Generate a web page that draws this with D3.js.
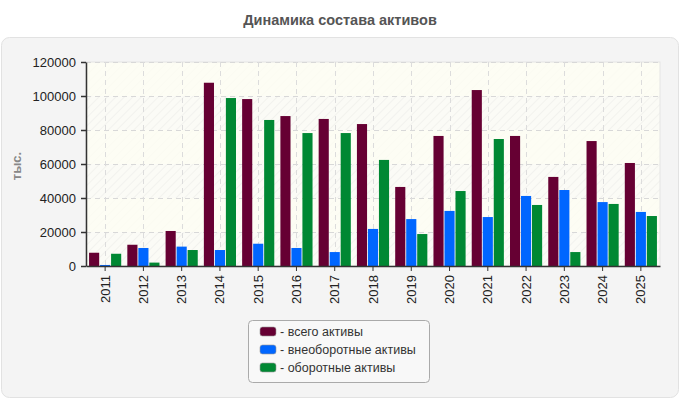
<!DOCTYPE html>
<html><head><meta charset="utf-8">
<script src="https://cdn.jsdelivr.net/npm/d3@7"></script>
<style>body{margin:0;background:#fff;font-family:"Liberation Sans",Arial,sans-serif}</style>
</head><body><svg id="c" width="680" height="400"></svg>
<script>
const years = ["2011","2012","2013","2014","2015","2016","2017","2018","2019","2020","2021","2022","2023","2024","2025"];
const totalAssets = [7800,12500,20600,107800,98200,88200,86500,83500,46500,76500,103500,76500,52400,73500,60600];
const nonCurrent = [600,10600,11400,9400,13100,10600,8200,21800,27600,32400,28800,41200,44700,37600,31800];
const current = [7200,2000,9400,98800,85900,78200,78200,62400,18800,44100,74700,35900,8200,36500,29400];
const seriesNames = ["всего активы","внеоборотные активы","оборотные активы"];
const colors = ["#660033","#0066ff","#008833"];
const yTicks = [0,20000,40000,60000,80000,100000,120000];

const svg = d3.select("#c");
const L=86,R=660,T=62,B=266;

svg.append("rect").attr("x",1.5).attr("y",37.5).attr("width",677).attr("height",360).attr("rx",8)
  .attr("fill","#f4f4f4").attr("stroke","#e2e2e2");
svg.append("text").attr("x",340).attr("y",25).attr("text-anchor","middle")
  .attr("font-size",14.5).attr("font-weight","bold").attr("fill","#555").text("Динамика состава активов");

const defs = svg.append("defs");
const pat = defs.append("pattern").attr("id","hatch").attr("patternUnits","userSpaceOnUse")
  .attr("width",6).attr("height",6).attr("patternTransform","rotate(45)");
pat.append("rect").attr("width",6).attr("height",6).attr("fill","#fbfbf6");
pat.append("line").attr("x1",0).attr("y1",0).attr("x2",0).attr("y2",6).attr("stroke","#efefec").attr("stroke-width",1.5);

const x = d3.scaleBand().domain(years).range([L,R]).paddingInner(0.16).paddingOuter(0.08);
const xc = d3.scaleBand().domain(years).range([L,R]);
const y = d3.scaleLinear().domain([0,120000]).range([B,T]);

svg.append("rect").attr("x",L).attr("y",T).attr("width",R-L).attr("height",B-T).attr("fill","url(#hatch)");
for(let i=0;i<yTicks.length-1;i+=2){
  const a=yTicks[yTicks.length-1-i], b=yTicks[yTicks.length-2-i];
  svg.append("rect").attr("x",L).attr("y",y(a)).attr("width",R-L).attr("height",y(b)-y(a)).attr("fill","#fdfdf3").attr("opacity",0.75);
}
svg.append("rect").attr("x",L).attr("y",T).attr("width",R-L).attr("height",B-T).attr("fill","none").attr("stroke","#e4e4e4");

svg.append("g").selectAll("line").data(yTicks.slice(1)).join("line")
  .attr("x1",L).attr("x2",R).attr("y1",d=>y(d)+0.5).attr("y2",d=>y(d)+0.5)
  .attr("stroke","#d8d8d8").attr("stroke-dasharray","5,4");
svg.append("g").selectAll("line").data(years).join("line")
  .attr("x1",d=>Math.round(xc(d)+xc.bandwidth()/2)+0.5).attr("x2",d=>Math.round(xc(d)+xc.bandwidth()/2)+0.5)
  .attr("y1",T).attr("y2",B).attr("stroke","#dcdcdc").attr("stroke-dasharray","5,4");

const xs = d3.scaleBand().domain([0,1,2]).range([0,x.bandwidth()]).paddingInner(0.08);
const data = [totalAssets,nonCurrent,current];
years.forEach((yr,i)=>{
  data.forEach((arr,s)=>{
    svg.append("rect").attr("x",xc(yr)+xc.bandwidth()/2-x.bandwidth()/2+xs(s)).attr("y",y(arr[i]))
      .attr("width",xs.bandwidth()).attr("height",B-y(arr[i])).attr("fill",colors[s]);
  });
});

const ya = svg.append("g").attr("transform",`translate(${L},0)`)
  .call(d3.axisLeft(y).tickValues(yTicks).tickFormat(d=>d).tickSize(5).tickSizeOuter(0));
ya.select(".domain").attr("stroke","#333").attr("stroke-width",1.5);
ya.selectAll(".tick line").attr("stroke","#333").attr("stroke-width",1.5);
ya.selectAll("text").attr("font-size",13).attr("fill","#222").attr("font-family","Liberation Sans, Arial").attr("dx",-2);

const xa = svg.append("g").attr("transform",`translate(0,${B})`)
  .call(d3.axisBottom(xc).tickSize(5).tickSizeOuter(0));
xa.select(".domain").attr("stroke","#333").attr("stroke-width",1.5);
xa.selectAll(".tick line").attr("stroke","#333");
xa.selectAll("text").attr("font-size",13).attr("fill","#222").attr("font-family","Liberation Sans, Arial")
  .attr("transform","rotate(-90)").attr("text-anchor","end").attr("x",-9).attr("y",0).attr("dy","0.35em");

svg.append("text").attr("transform","translate(21,166) rotate(-90)").attr("text-anchor","middle")
  .attr("font-size",13).attr("font-weight","bold").attr("fill","#888").text("тыс.");

const lg = svg.append("g");
lg.append("rect").attr("x",248.5).attr("y",320.5).attr("width",181).attr("height",62).attr("rx",4)
  .attr("fill","#f8f8f8").attr("stroke","#aaa");
seriesNames.forEach((n,i)=>{
  lg.append("rect").attr("x",260).attr("y",327+i*18).attr("width",16).attr("height",9).attr("rx",2.5)
    .attr("fill",colors[i]).attr("stroke","#999").attr("stroke-width",0.6);
  lg.append("text").attr("x",280).attr("y",336+i*18).attr("font-size",12.5).attr("fill","#333").text("- "+n);
});
</script></body></html>
